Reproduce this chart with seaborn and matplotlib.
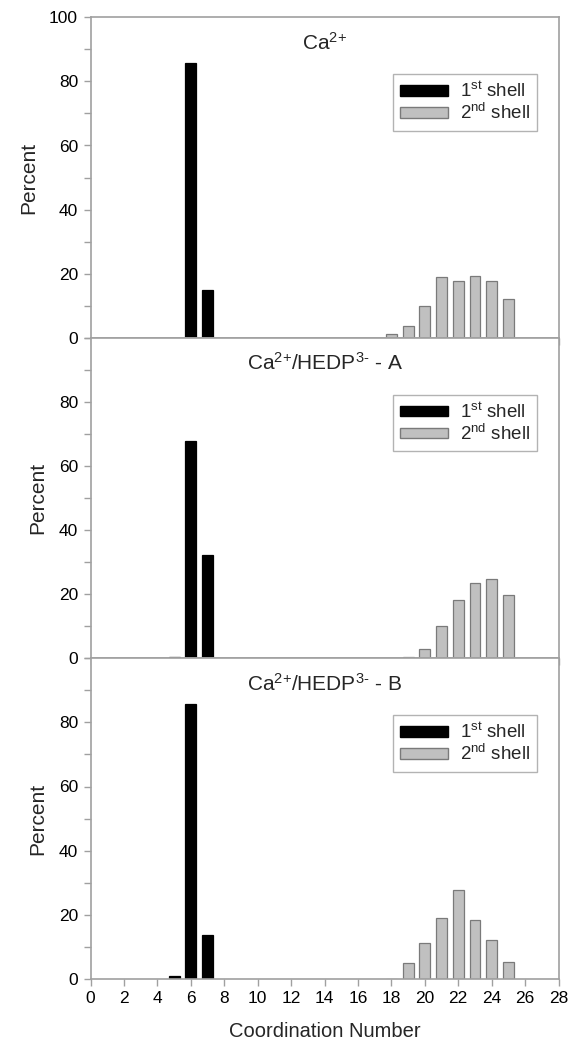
import numpy as np
import pandas as pd
import matplotlib
matplotlib.use("Agg")
import matplotlib.pyplot as plt
from matplotlib.patches import Patch
import seaborn as sns

# Coordination number distributions (percent of frames)
first_cn = [5, 6, 7]
second_cn = [18, 19, 20, 21, 22, 23, 24, 25]

ca_first = [0.0, 85.7, 15.0]
ca_second = [1.2, 3.8, 9.8, 19.0, 17.8, 19.4, 17.8, 12.1]

hedp_a_first = [0.3, 67.7, 32.3]
hedp_a_second = [0.0, 0.3, 3.0, 10.0, 18.2, 23.6, 24.6, 19.9]

hedp_b_first = [0.8, 85.7, 13.7]
hedp_b_second = [0.0, 4.8, 11.1, 19.0, 27.7, 18.3, 12.0, 5.3]

panel_titles = ["Ca$^{2{+}}$", "Ca$^{2{+}}$/HEDP$^{3{\u2010}}$ - A", "Ca$^{2{+}}$/HEDP$^{3{\u2010}}$ - B"]
shell_labels = ["1$^{st}$ shell", "2$^{nd}$ shell"]
x_ticks = list(range(0, 29, 2))

sns.set_theme(style="white")
plt.rcParams["font.family"] = ["Liberation Sans", "DejaVu Sans"]
plt.rcParams["mathtext.default"] = "regular"

first_sets = [ca_first, hedp_a_first, hedp_b_first]
second_sets = [ca_second, hedp_a_second, hedp_b_second]

frames = []
for title, f, s in zip(panel_titles, first_sets, second_sets):
    frames.append(pd.DataFrame({"cn": first_cn, "pct": f, "shell": "first", "panel": title}))
    frames.append(pd.DataFrame({"cn": second_cn, "pct": s, "shell": "second", "panel": title}))
data = pd.concat(frames, ignore_index=True)

fig = plt.figure(figsize=(5.70, 10.44), dpi=100)
left, right = 90.6 / 570, 558.5 / 570
top_px, panel_px = 17.3, 320.5
spine_col = "#a0a0a0"
fill_cols = {"first": "black", "second": "#c0c0c0"}
edge_cols = {"first": "black", "second": "#7a7a7a"}

axes = []
for i, title in enumerate(panel_titles):
    y0 = 1 - (top_px + (i + 1) * panel_px) / 1044
    ax = fig.add_axes([left, y0, right - left, panel_px / 1044])
    axes.append(ax)
    sub = data[data["panel"] == title]
    for shell in ["first", "second"]:
        part = sub[sub["shell"] == shell]
        sns.barplot(data=part, x="cn", y="pct", native_scale=True, width=0.65,
                    color=fill_cols[shell], edgecolor=edge_cols[shell],
                    linewidth=0.9, saturation=1, ax=ax, errorbar=None)
    ax.set_xlim(0, 28)
    ax.set_ylim(0, 100)
    ax.set_xticks(x_ticks)
    ax.set_yticks(np.arange(0, 101, 10))
    yt = [str(v) if (v % 20 == 0 and (i == 0 or v < 100)) else "" for v in range(0, 101, 10)]
    ax.set_yticklabels(yt)
    if i < 2:
        ax.set_xticklabels([])
        ax.set_xlabel("")
    else:
        ax.set_xticklabels([str(v) for v in x_ticks])
        ax.set_xlabel("Coordination Number", fontsize=14.5, labelpad=11)
    ax.set_ylabel("Percent", fontsize=15, labelpad=8)
    for sp in ax.spines.values():
        sp.set_color(spine_col)
        sp.set_linewidth(1.2)
    ax.tick_params(axis="both", which="major", direction="out", length=5, width=1,
                   color=spine_col, labelsize=12.5, left=True, bottom=True, pad=4,
                   labelcolor="black")
    ax.text(0.5, 0.955, title, transform=ax.transAxes, ha="center", va="top",
            fontsize=15)
    handles = [Patch(facecolor="black", edgecolor="black", label=shell_labels[0]),
               Patch(facecolor="#c0c0c0", edgecolor="#7a7a7a", label=shell_labels[1])]
    leg = ax.legend(handles=handles, loc="upper right", bbox_to_anchor=(0.955, 0.823),
                    fontsize=13.5, frameon=True, fancybox=False, handlelength=2.55,
                    handleheight=0.5, borderpad=0.4, labelspacing=0.1,
                    handletextpad=0.62, borderaxespad=0)
    leg.get_frame().set_edgecolor(spine_col)
    leg.get_frame().set_linewidth(1.0)

fig.savefig("out.png", dpi=100)
